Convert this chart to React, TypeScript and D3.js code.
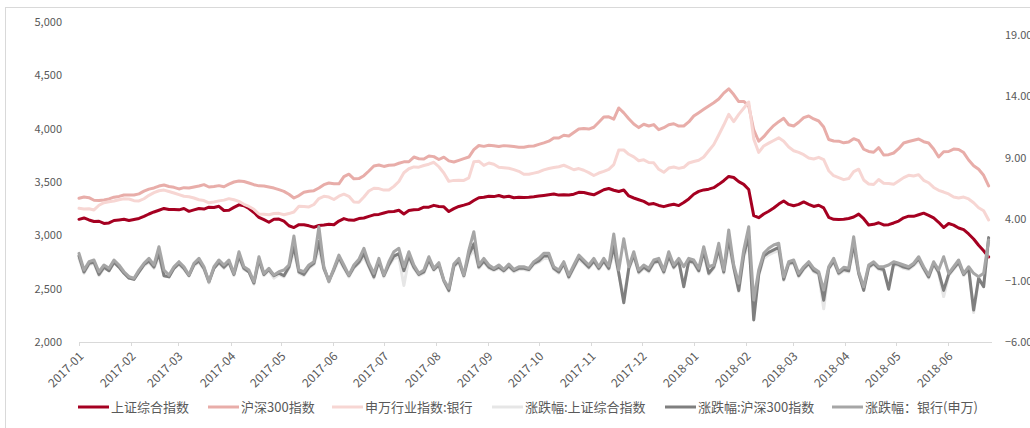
import React from "react";
import * as d3 from "d3";

// ---- axis / category data ----
const monthLabels = [
  "2017-01", "2017-02", "2017-03", "2017-04", "2017-05", "2017-06",
  "2017-07", "2017-08", "2017-09", "2017-10", "2017-11", "2017-12",
  "2018-01", "2018-02", "2018-03", "2018-04", "2018-05", "2018-06",
];
const leftTicks = [2000, 2500, 3000, 3500, 4000, 4500, 5000];
const rightTicks = [-6, -1, 4, 9, 14, 19];

// ---- index levels (left axis) ----
const shComposite = [
  3150, 3163, 3144, 3130, 3132, 3111, 3116, 3139, 3144, 3150,
  3139, 3148, 3158, 3177, 3200, 3219, 3235, 3252, 3242, 3242,
  3239, 3251, 3225, 3239, 3252, 3246, 3264, 3261, 3272, 3233,
  3235, 3262, 3286, 3278, 3251, 3214, 3169, 3147, 3123, 3151,
  3152, 3133, 3090, 3073, 3100, 3099, 3089, 3076, 3092, 3097,
  3104, 3099, 3134, 3157, 3143, 3141, 3157, 3163, 3178, 3192,
  3196, 3209, 3222, 3224, 3235, 3200, 3232, 3239, 3243, 3264,
  3264, 3281, 3271, 3267, 3223, 3250, 3271, 3283, 3297, 3326,
  3353, 3357, 3367, 3363, 3373, 3360, 3366, 3352, 3356, 3354,
  3356, 3361, 3368, 3374, 3380, 3387, 3377, 3380, 3379, 3386,
  3403, 3401, 3390, 3380, 3403, 3427, 3439, 3423, 3411, 3425,
  3369, 3350, 3334, 3318, 3291, 3298, 3280, 3269, 3282, 3292,
  3279, 3307, 3341, 3385, 3412, 3426, 3433, 3447, 3478, 3512,
  3552, 3542, 3503, 3478, 3429, 3185, 3165, 3200, 3226, 3256,
  3293, 3322, 3290, 3278, 3290, 3313, 3291, 3271, 3282, 3257,
  3169, 3150, 3149, 3150, 3158, 3172, 3199, 3156, 3097, 3103,
  3118, 3097, 3100, 3116, 3134, 3164, 3180, 3178, 3193, 3208,
  3187, 3163, 3122, 3073, 3111, 3096, 3069, 3053, 3013, 2966,
  2907, 2856, 2797,
];

const csi300 = [
  3347, 3359, 3353, 3329, 3326, 3332, 3341, 3358, 3365, 3378,
  3378, 3378, 3389, 3414, 3433, 3444, 3462, 3472, 3458, 3450,
  3435, 3447, 3443, 3453, 3462, 3475, 3453, 3458, 3466, 3455,
  3480, 3500, 3510, 3505, 3491, 3475, 3464, 3463, 3453, 3443,
  3428, 3412, 3385, 3350, 3373, 3404, 3413, 3419, 3444, 3475,
  3491, 3484, 3483, 3550, 3573, 3530, 3532, 3559, 3603, 3650,
  3659, 3646, 3657, 3659, 3676, 3689, 3690, 3734, 3718, 3716,
  3744, 3738, 3711, 3733, 3698, 3688, 3703, 3719, 3734, 3803,
  3842, 3834, 3844, 3839, 3832, 3841, 3838, 3832, 3826, 3825,
  3835, 3838, 3853, 3867, 3883, 3913, 3912, 3938, 3931, 3964,
  3996, 4002, 3996, 4013, 4060, 4109, 4111, 4089, 4194, 4148,
  4093, 4044, 4010, 4041, 4025, 4038, 3990, 4009, 4037, 4046,
  4024, 4025, 4063, 4119, 4150, 4182, 4213, 4243, 4278, 4333,
  4374, 4320, 4254, 4255, 4213, 3988, 3882, 3925, 3981, 4029,
  4066, 4097, 4037, 4025, 4060, 4103, 4119, 4091, 4072, 4016,
  3898, 3884, 3883, 3867, 3875, 3906, 3887, 3807, 3786, 3779,
  3822, 3753, 3756, 3772, 3812, 3866, 3880, 3892, 3903, 3878,
  3866, 3809, 3734, 3784, 3786, 3809, 3804, 3776, 3706, 3653,
  3619, 3563, 3463,
];

const swBank = [
  3253, 3247, 3249, 3238, 3282, 3306, 3315, 3322, 3334, 3342,
  3341, 3325, 3322, 3343, 3375, 3400, 3418, 3424, 3411, 3397,
  3381, 3366, 3362, 3350, 3334, 3326, 3305, 3313, 3323, 3330,
  3344, 3334, 3318, 3291, 3271, 3244, 3200, 3198, 3193, 3204,
  3206, 3193, 3204, 3219, 3272, 3270, 3266, 3289, 3345, 3366,
  3359, 3336, 3367, 3386, 3366, 3313, 3310, 3359, 3416, 3441,
  3438, 3424, 3425, 3459, 3505, 3587, 3624, 3641, 3639, 3655,
  3667, 3685, 3643, 3585, 3506, 3515, 3516, 3515, 3539, 3690,
  3695, 3656, 3678, 3666, 3638, 3634, 3629, 3616, 3600, 3572,
  3573, 3583, 3594, 3614, 3627, 3636, 3643, 3657, 3637, 3615,
  3626, 3610, 3588, 3561, 3584, 3599, 3619, 3663, 3800, 3800,
  3760, 3736, 3699, 3708, 3683, 3680, 3619, 3591, 3631, 3641,
  3628, 3638, 3678, 3692, 3704, 3734, 3793, 3850, 3941, 4034,
  4134, 4066, 4134, 4191, 4250, 3904, 3777, 3838, 3864, 3889,
  3914, 3882, 3828, 3793, 3778, 3756, 3725, 3716, 3731, 3710,
  3606, 3559, 3541, 3522, 3532, 3597, 3620, 3519, 3481, 3476,
  3524, 3488, 3485, 3478, 3509, 3541, 3563, 3556, 3569, 3516,
  3493, 3449, 3422, 3406, 3388, 3359, 3350, 3359, 3341, 3306,
  3259, 3231, 3144,
];

// ---- daily change, % (right axis) ----
const shChange = [
  0.8, -0.4, 0.3, 0.4, -0.6, 0.0, -0.2, 0.4, 0.1, -0.4,
  -0.8, -0.9, -0.3, 0.2, 0.5, 0.0, 0.9, -0.6, -0.7, 0.0,
  0.3, -0.1, -0.6, 0.2, 0.5, -0.1, -1.2, 0.0, 0.4, 0.0,
  0.4, -0.6, 0.8, -0.1, -0.3, -1.3, 0.5, -0.6, -0.2, -0.8,
  -0.5, -0.7, 0.0, 1.4, -0.4, -0.6, 0.0, 0.3, 1.6, -0.1,
  -1.1, -0.2, 0.7, 0.0, -0.7, 0.0, 0.4, 0.9, 0.1, -0.8,
  0.5, -0.7, 0.2, 0.8, 0.9, -1.4, 0.8, 0.0, -0.6, -0.4,
  0.5, -0.2, 0.2, -1.1, -1.9, 0.1, 0.5, -0.7, 0.9, 1.5,
  0.0, 0.5, 0.0, -0.2, 0.0, -0.3, 0.1, -0.3, -0.1, -0.1,
  -0.2, 0.3, 0.5, 0.8, 0.8, -0.1, -0.4, 0.3, -0.8, 0.0,
  0.7, 0.4, 0.0, 0.5, -0.1, 0.5, -0.1, 1.3, -0.5, -2.3,
  -0.1, 0.9, -0.4, 0.0, -0.3, 0.4, 0.5, -0.4, 0.8, 0.0,
  0.5, -1.4, 0.5, 0.4, -0.3, 1.1, -0.5, 0.0, 1.2, -0.4,
  1.8, 0.0, -1.9, 0.9, 2.0, -3.3, -0.6, 0.8, 1.1, 1.3,
  1.4, -1.0, 0.3, 0.4, -0.7, -0.1, 0.3, -0.3, -0.5, -3.3,
  -0.1, 0.5, -0.5, -0.2, -0.3, 1.6, -0.5, -1.6, 0.0, 0.3,
  -0.1, -0.2, -1.4, 0.3, 0.2, 0.0, -0.1, 0.2, 0.6, -0.1,
  -0.8, 0.3, -0.4, -2.3, -0.6, -0.1, 0.4, -0.6, -0.1, -3.6,
  -0.9, -1.4, 2.1,
];

const csiChange = [
  1.0, -0.3, 0.4, 0.5, -0.5, 0.1, -0.2, 0.5, 0.1, -0.4,
  -0.8, -0.9, -0.3, 0.3, 0.6, 0.1, 1.2, -0.6, -0.7, 0.0,
  0.4, 0.0, -0.6, 0.3, 0.6, 0.0, -1.1, 0.0, 0.5, 0.1,
  0.5, -0.5, 1.0, 0.0, -0.3, -1.2, 0.7, -0.5, -0.1, -0.6,
  -0.4, -0.6, 0.1, 1.8, -0.3, -0.5, 0.1, 0.4, 2.2, 0.0,
  -1.0, -0.1, 0.9, 0.1, -0.6, 0.1, 0.5, 1.2, 0.2, -0.7,
  0.6, -0.6, 0.3, 1.0, 1.2, -0.2, 1.0, 0.1, -0.5, -0.3,
  0.7, -0.1, 0.3, -1.0, -1.8, 0.2, 0.6, -0.6, 1.1, 2.0,
  0.1, 0.6, 0.1, -0.1, 0.1, -0.2, 0.2, -0.2, 0.0, 0.0,
  -0.1, 0.4, 0.6, 1.0, 1.0, 0.0, -0.3, 0.4, -0.7, 0.1,
  0.9, 0.5, 0.1, 0.6, 0.0, 0.6, 0.0, 1.8, -0.4, -2.8,
  0.0, 1.1, -0.3, 0.1, -0.2, 0.5, 0.6, -0.3, 1.0, 0.1,
  0.6, -1.5, 0.6, 0.5, -0.2, 1.4, -0.4, 0.1, 1.6, -0.3,
  2.4, 0.1, -1.8, 1.1, 2.6, -4.2, -0.5, 1.0, 1.3, 1.5,
  1.7, -0.9, 0.4, 0.5, -0.6, 0.0, 0.4, -0.2, -0.4, -2.6,
  0.0, 0.6, -0.4, -0.1, -0.2, 2.0, -0.4, -1.8, 0.1, 0.4,
  0.0, -0.1, -1.7, 0.4, 0.3, 0.1, 0.0, 0.3, 0.8, 0.0,
  -0.7, 0.4, -0.3, -1.8, -0.5, 0.0, 0.5, -0.5, 0.0, -3.4,
  -0.8, -1.5, 2.5,
];

const bankChange = [
  1.22, -0.14, 0.54, 0.68, -0.28, 0.27, 0.0, 0.68, 0.27, -0.28,
  -0.68, -0.81, -0.14, 0.41, 0.81, 0.27, 1.76, -0.14, -0.55, 0.13,
  0.54, 0.13, -0.55, 0.41, 0.81, 0.13, -1.09, 0.13, 0.68, 0.27,
  0.68, -0.41, 1.35, 0.13, -0.14, -1.09, 0.94, -0.41, 0.0, -0.55,
  -0.28, -0.14, 0.27, 2.63, -0.14, -0.28, 0.27, 0.54, 3.39, 0.13,
  -1.09, 0.0, 1.08, 0.27, -0.55, 0.27, 0.73, 1.63, 0.41, -0.41,
  0.81, -0.55, 0.54, 1.35, 1.63, 0.13, 1.35, 0.27, -0.41, -0.14,
  0.94, 0.0, 0.46, -0.95, -1.63, 0.35, 0.81, -0.55, 1.49, 2.98,
  0.27, 0.81, 0.27, 0.0, 0.27, -0.08, 0.35, -0.08, 0.13, 0.13,
  0.0, 0.54, 0.81, 1.22, 1.22, 0.13, -0.14, 0.54, -0.55, 0.27,
  1.08, 0.68, 0.27, 0.81, 0.13, 0.81, 0.19, 2.8, -0.14, 2.4,
  0.13, 1.35, -0.14, 0.27, 0.0, 0.68, 0.81, -0.14, 1.35, 0.27,
  0.81, 0.13, 0.81, 0.68, 0.0, 1.76, 0.13, 0.27, 2.04, -0.14,
  3.12, 0.27, -1.22, 1.49, 3.39, -2.58, -0.14, 1.22, 1.63, 1.9,
  2.04, -0.68, 0.54, 0.68, -0.41, 0.13, 0.54, 0.0, -0.28, -1.77,
  0.13, 0.81, -0.28, 0.08, 0.0, 2.57, -0.28, -1.5, 0.27, 0.54,
  0.13, 0.13, 0.27, 0.54, 0.41, 0.27, 0.13, 0.41, 0.94, 0.13,
  -0.55, 0.54, -0.14, 0.94, -0.41, 0.13, 0.68, -0.41, 0.13, -0.41,
  -0.68, -0.41, 2.3,
];

// ---- layout ----
const W = 1030;
const H = 428;
const plot = { left: 79, right: 992, top: 22, bottom: 342 };
const START = new Date(2017, 0, 3);
const AXIS_END = new Date(2018, 5, 29);
const DATA_END = new Date(2018, 5, 27);
const TEXT = "#595959";
const AXIS = "#D9D9D9";
const FONT = "'Noto Sans CJK SC', 'Noto Sans', sans-serif";

type Series = { name: string; values: number[]; color: string; axis: "left" | "right"; width: number };

const series: Series[] = [
  { name: "上证综合指数", values: shComposite, color: "#A50021", axis: "left", width: 3 },
  { name: "沪深300指数", values: csi300, color: "#E8ADA9", axis: "left", width: 3 },
  { name: "申万行业指数:银行", values: swBank, color: "#F7D6D3", axis: "left", width: 3 },
  { name: "涨跌幅:上证综合指数", values: shChange, color: "#E6E6E6", axis: "right", width: 3 },
  { name: "涨跌幅:沪深300指数", values: csiChange, color: "#7F7F7F", axis: "right", width: 3 },
  { name: "涨跌幅：银行(申万)", values: bankChange, color: "#A6A6A6", axis: "right", width: 3 },
];

const legendX = [78, 208, 332, 492, 665, 832];

export default function App() {
  const x = d3.scaleTime().domain([START, AXIS_END]).range([plot.left, plot.right]);
  const yL = d3.scaleLinear().domain([2000, 5000]).range([plot.bottom, plot.top]);
  const yR = d3.scaleLinear().domain([-6, 19]).range([plot.bottom, 35]);

  const span = +DATA_END - +START;
  const dateAt = (i: number, n: number) => new Date(+START + (i * span) / (n - 1));

  const paths = series.map((s) => {
    const yS = s.axis === "left" ? yL : yR;
    const gen = d3
      .line<number>()
      .x((_, i) => x(dateAt(i, s.values.length)))
      .y((v) => yS(v));
    return gen(s.values) || "";
  });

  const tickDates = monthLabels.map((m) => {
    const [yy, mm] = m.split("-").map(Number);
    return new Date(yy, mm - 1, 3);
  });

  return (
    <svg
      width={W}
      height={H}
      style={{ position: "absolute", left: 0, top: 0, background: "#fff" }}
      fontFamily={FONT}
    >
      <rect x={5.5} y={7.5} width={W} height={H} fill="#fff" stroke={AXIS} />

      {/* left axis labels */}
      {leftTicks.map((t) => (
        <text key={"l" + t} x={62} y={yL(t) + 4} textAnchor="end" fontSize={11} fill={TEXT}>
          {d3.format(",")(t)}
        </text>
      ))}

      {/* right axis labels */}
      {rightTicks.map((t) => (
        <text key={"r" + t} x={1005} y={yR(t) + 4} textAnchor="start" fontSize={11} fill={TEXT}>
          {d3.format(".2f")(t)}
        </text>
      ))}

      {/* x axis */}
      <line x1={plot.left} x2={plot.right} y1={plot.bottom + 0.5} y2={plot.bottom + 0.5} stroke={AXIS} />
      {tickDates.map((d, i) => {
        const tx = Math.round(x(d)) + 0.5;
        return (
          <g key={monthLabels[i]}>
            <line x1={tx} x2={tx} y1={plot.bottom} y2={plot.bottom + 4} stroke={AXIS} />
            <text
              transform={`translate(${tx + 5},${plot.bottom + 15}) rotate(-45)`}
              textAnchor="end"
              fontSize={12}
              fill={TEXT}
            >
              {monthLabels[i]}
            </text>
          </g>
        );
      })}

      {/* series */}
      {series.map((s, i) => (
        <path
          key={s.name}
          d={paths[i]}
          fill="none"
          stroke={s.color}
          strokeWidth={s.width}
          strokeLinejoin="round"
          strokeLinecap="round"
        />
      ))}

      {/* legend */}
      {series.map((s, i) => (
        <g key={"lg" + s.name} transform={`translate(${legendX[i]},407)`}>
          <line x1={0} x2={31} y1={0} y2={0} stroke={s.color} strokeWidth={3} />
          <text x={33} y={4.5} fontSize={13} fill={TEXT}>
            {s.name}
          </text>
        </g>
      ))}
    </svg>
  );
}
